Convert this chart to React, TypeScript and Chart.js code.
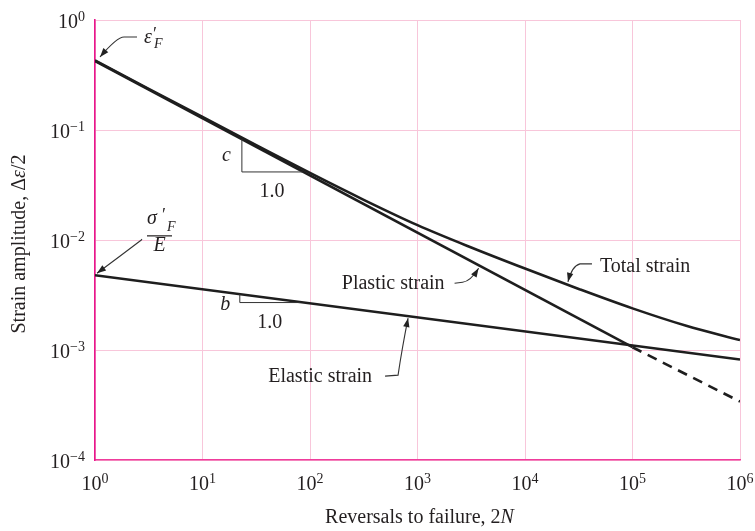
import React, { useEffect, useRef } from "react";
import { Chart, registerables } from "chart.js";

Chart.register(...registerables);

// ---- data ----
const xDecades = [1, 10, 100, 1000, 1e4, 1e5, 1e6];
const xExponents = ["0", "1", "2", "3", "4", "5", "6"];
const yDecades = [1e-4, 1e-3, 1e-2, 1e-1, 1];
const yExponents = ["\u22124", "\u22123", "\u22122", "\u22121", "0"];

const totalX = [1, 3.16, 10, 31.6, 100, 316, 1000, 3162, 1e4, 31623, 1e5, 316228, 1e6];
const totalY = [0.429, 0.237, 0.1313, 0.073, 0.0407, 0.0232, 0.01365, 0.00855, 0.0055, 0.00359, 0.00239, 0.00166, 0.00123];

const plasticX = [1, 1e5];
const plasticY = [0.424, 0.00106];
const plasticExtX = [1e5, 1e6];
const plasticExtY = [0.00106, 0.00034];

const elasticX = [1, 1e6];
const elasticY = [0.00478, 0.00082];

const cTriangleX = [23, 85];
const bTriangleX = [22, 81];

const plasticLabelX = 3700;
const elasticLabelX = 817;
const totalLabelX = 25100;

const FONT = "'Liberation Serif', 'Times New Roman', serif";
const INK = "#231f20";
const LINE = "#1e1e1e";

type Run = { t: string; it?: boolean; s?: number; dy?: number };

function fontOf(r: Run) {
  return `${r.it ? "italic " : ""}${r.s || 20}px ${FONT}`;
}
function runsWidth(ctx: CanvasRenderingContext2D, runs: Run[]) {
  let w = 0;
  for (const r of runs) {
    ctx.font = fontOf(r);
    w += ctx.measureText(r.t).width;
  }
  return w;
}
function drawRuns(ctx: CanvasRenderingContext2D, runs: Run[], x: number, y: number, align: "left" | "center" | "right") {
  const w = runsWidth(ctx, runs);
  let cx = align === "left" ? x : align === "center" ? x - w / 2 : x - w;
  ctx.textAlign = "left";
  ctx.textBaseline = "alphabetic";
  ctx.fillStyle = INK;
  for (const r of runs) {
    ctx.font = fontOf(r);
    ctx.fillText(r.t, cx, y + (r.dy || 0));
    cx += ctx.measureText(r.t).width;
  }
}

function logInterp(xs: number[], ys: number[], x: number) {
  const lx = Math.log10(x);
  for (let i = 0; i < xs.length - 1; i++) {
    const a = Math.log10(xs[i]);
    const b = Math.log10(xs[i + 1]);
    if (lx >= a && lx <= b) {
      const t = (lx - a) / (b - a);
      return Math.pow(10, Math.log10(ys[i]) + t * (Math.log10(ys[i + 1]) - Math.log10(ys[i])));
    }
  }
  return ys[ys.length - 1];
}

function leader(ctx: CanvasRenderingContext2D, start: number[], elbow: number[], ctrl: number[], tip: number[]) {
  ctx.save();
  ctx.strokeStyle = "#333";
  ctx.lineWidth = 1.1;
  ctx.beginPath();
  ctx.moveTo(start[0], start[1]);
  ctx.lineTo(elbow[0], elbow[1]);
  ctx.quadraticCurveTo(ctrl[0], ctrl[1], tip[0], tip[1]);
  ctx.stroke();
  const ang = Math.atan2(tip[1] - ctrl[1], tip[0] - ctrl[0]);
  const len = 9;
  const half = 3.2;
  ctx.fillStyle = "#222";
  ctx.beginPath();
  ctx.moveTo(tip[0], tip[1]);
  ctx.lineTo(tip[0] - len * Math.cos(ang) + half * Math.sin(ang), tip[1] - len * Math.sin(ang) - half * Math.cos(ang));
  ctx.lineTo(tip[0] - len * Math.cos(ang) - half * Math.sin(ang), tip[1] - len * Math.sin(ang) + half * Math.cos(ang));
  ctx.closePath();
  ctx.fill();
  ctx.restore();
}

const annotationPlugin = {
  id: "annotations",
  afterDraw(chart: any) {
    const ctx: CanvasRenderingContext2D = chart.ctx;
    const xs = chart.scales.x;
    const ys = chart.scales.y;
    const px = (v: number) => xs.getPixelForValue(v);
    const py = (v: number) => ys.getPixelForValue(v);
    const area = chart.chartArea;

    ctx.save();
    // x tick labels
    xDecades.forEach((v, i) => {
      const runs: Run[] = [{ t: "10" }, { t: xExponents[i], s: 14, dy: -7 }];
      drawRuns(ctx, runs, px(v), area.bottom + 30, "center");
    });
    // y tick labels
    yDecades.forEach((v, i) => {
      const runs: Run[] = [{ t: "10" }, { t: yExponents[i], s: 14, dy: -7.5 }];
      drawRuns(ctx, runs, area.left - 10, py(v) + 8, "right");
    });
    // axis titles
    drawRuns(ctx, [{ t: "Reversals to failure, 2" }, { t: "N", it: true }], (area.left + area.right) / 2 + 2, area.bottom + 63, "center");
    ctx.save();
    ctx.translate(25, 244);
    ctx.rotate(-Math.PI / 2);
    drawRuns(ctx, [{ t: "Strain amplitude, \u0394" }, { t: "\u03b5", it: true }, { t: "/2" }], 0, 0, "center");
    ctx.restore();

    // epsilon'_F
    const eA = [px(plasticX[0]), py(plasticY[0])];
    const eTip = [eA[0] + 5, eA[1] - 4];
    leader(ctx, [eA[0] + 42, eA[1] - 24], [eA[0] + 29, eA[1] - 24], [eA[0] + 22, eA[1] - 24], eTip);
    drawRuns(ctx, [{ t: "\u03b5", it: true }], eA[0] + 49, eA[1] - 18, "left");
    drawRuns(ctx, [{ t: "\u2032", s: 18 }], eA[0] + 58, eA[1] - 21, "left");
    drawRuns(ctx, [{ t: "F", it: true, s: 14 }], eA[0] + 59, eA[1] - 13, "left");

    // sigma'_F / E
    const sA = [px(elasticX[0]), py(elasticY[0])];
    const sTip = [sA[0] + 2, sA[1] - 2];
    leader(ctx, [sA[0] + 47, sA[1] - 36], [sA[0] + 46, sA[1] - 35], [sA[0] + 25, sA[1] - 19], sTip);
    drawRuns(ctx, [{ t: "\u03c3", it: true }], sA[0] + 52, sA[1] - 51, "left");
    drawRuns(ctx, [{ t: "\u2032", s: 18 }], sA[0] + 67, sA[1] - 54, "left");
    drawRuns(ctx, [{ t: "F", it: true, s: 14 }], sA[0] + 72, sA[1] - 44, "left");
    ctx.fillStyle = INK;
    ctx.fillRect(sA[0] + 52, sA[1] - 40, 25, 1.2);
    drawRuns(ctx, [{ t: "E", it: true }], sA[0] + 64.5, sA[1] - 24, "center");

    // slope triangles
    ctx.strokeStyle = "#333";
    ctx.lineWidth = 1;
    const cx1 = px(cTriangleX[0]);
    const cx2 = px(cTriangleX[1]);
    const cTop = py(logInterp(plasticX, plasticY, cTriangleX[0]));
    const cBot = py(logInterp(plasticX, plasticY, cTriangleX[1]));
    ctx.beginPath();
    ctx.moveTo(cx1 + 0.5, cTop);
    ctx.lineTo(cx1 + 0.5, cBot + 0.5);
    ctx.lineTo(cx2, cBot + 0.5);
    ctx.stroke();
    drawRuns(ctx, [{ t: "c", it: true }], cx1 - 15, cBot - 10, "center");
    drawRuns(ctx, [{ t: "1.0" }], (cx1 + cx2) / 2, cBot + 26, "center");

    const bx1 = px(bTriangleX[0]);
    const bx2 = px(bTriangleX[1]);
    const bTop = py(logInterp(elasticX, elasticY, bTriangleX[0]));
    const bBot = py(logInterp(elasticX, elasticY, bTriangleX[1]));
    ctx.beginPath();
    ctx.moveTo(bx1 + 0.5, bTop);
    ctx.lineTo(bx1 + 0.5, bBot + 0.5);
    ctx.lineTo(bx2, bBot + 0.5);
    ctx.stroke();
    drawRuns(ctx, [{ t: "b", it: true }], bx1 - 14, bBot + 8, "center");
    drawRuns(ctx, [{ t: "1.0" }], (bx1 + bx2) / 2, bBot + 26, "center");

    // Plastic strain label
    const pTip = [px(plasticLabelX), py(logInterp(plasticX, plasticY, plasticLabelX)) + 3];
    leader(ctx, [pTip[0] - 24, pTip[1] + 15], [pTip[0] - 16, pTip[1] + 14], [pTip[0] - 8, pTip[1] + 13], pTip);
    drawRuns(ctx, [{ t: "Plastic strain" }], pTip[0] - 34, pTip[1] + 21, "right");

    // Elastic strain label
    const elTip = [px(elasticLabelX), py(logInterp(elasticX, elasticY, elasticLabelX)) + 2];
    leader(ctx, [elTip[0] - 23, elTip[1] + 58], [elTip[0] - 10, elTip[1] + 57], [elTip[0] - 6, elTip[1] + 30], elTip);
    drawRuns(ctx, [{ t: "Elastic strain" }], elTip[0] - 36, elTip[1] + 64, "right");

    // Total strain label
    const tTip = [px(totalLabelX), py(logInterp(totalX, totalY, totalLabelX)) - 3];
    leader(ctx, [tTip[0] + 24, tTip[1] - 18], [tTip[0] + 12, tTip[1] - 18], [tTip[0] + 4, tTip[1] - 16], tTip);
    drawRuns(ctx, [{ t: "Total strain" }], tTip[0] + 32, tTip[1] - 10, "left");

    ctx.restore();
  },
};

function pts(xs: number[], ys: number[]) {
  return xs.map((x, i) => ({ x, y: ys[i] }));
}

export default function App() {
  const ref = useRef<HTMLCanvasElement | null>(null);

  useEffect(() => {
    if (!ref.current) return;
    const base = {
      borderColor: LINE,
      borderWidth: 2.6,
      pointRadius: 0,
      fill: false,
      showLine: true,
    };
    const chart = new Chart(ref.current, {
      type: "line",
      data: {
        datasets: [
          { ...base, label: "Total strain", data: pts(totalX, totalY), cubicInterpolationMode: "monotone" },
          { ...base, label: "Plastic strain", data: pts(plasticX, plasticY) },
          { ...base, label: "Plastic (extended)", data: pts(plasticExtX, plasticExtY), borderDash: [10, 7] },
          { ...base, label: "Elastic strain", data: pts(elasticX, elasticY) },
        ] as any,
      },
      options: {
        animation: false,
        responsive: true,
        maintainAspectRatio: false,
        layout: { padding: { left: 95, right: 15, top: 20, bottom: 71 } },
        plugins: { legend: { display: false }, tooltip: { enabled: false } },
        scales: {
          x: {
            type: "logarithmic",
            min: 1,
            max: 1e6,
            afterBuildTicks: (axis: any) => {
              axis.ticks = xDecades.map((v) => ({ value: v }));
            },
            ticks: { display: false },
            grid: { color: "#f8c6da", lineWidth: 1, drawTicks: false },
            border: { color: "#ef3c9c", width: 1.6 },
          },
          y: {
            type: "logarithmic",
            min: 1e-4,
            max: 1,
            afterBuildTicks: (axis: any) => {
              axis.ticks = yDecades.map((v) => ({ value: v }));
            },
            ticks: { display: false },
            grid: { color: "#f8c6da", lineWidth: 1, drawTicks: false },
            border: { color: "#e8168c", width: 1.6 },
          },
        },
      } as any,
      plugins: [annotationPlugin],
    });
    return () => chart.destroy();
  }, []);

  return (
    <div style={{ position: "absolute", left: 0, top: 0, width: 755, height: 531, background: "#fff" }}>
      <canvas ref={ref} />
    </div>
  );
}
